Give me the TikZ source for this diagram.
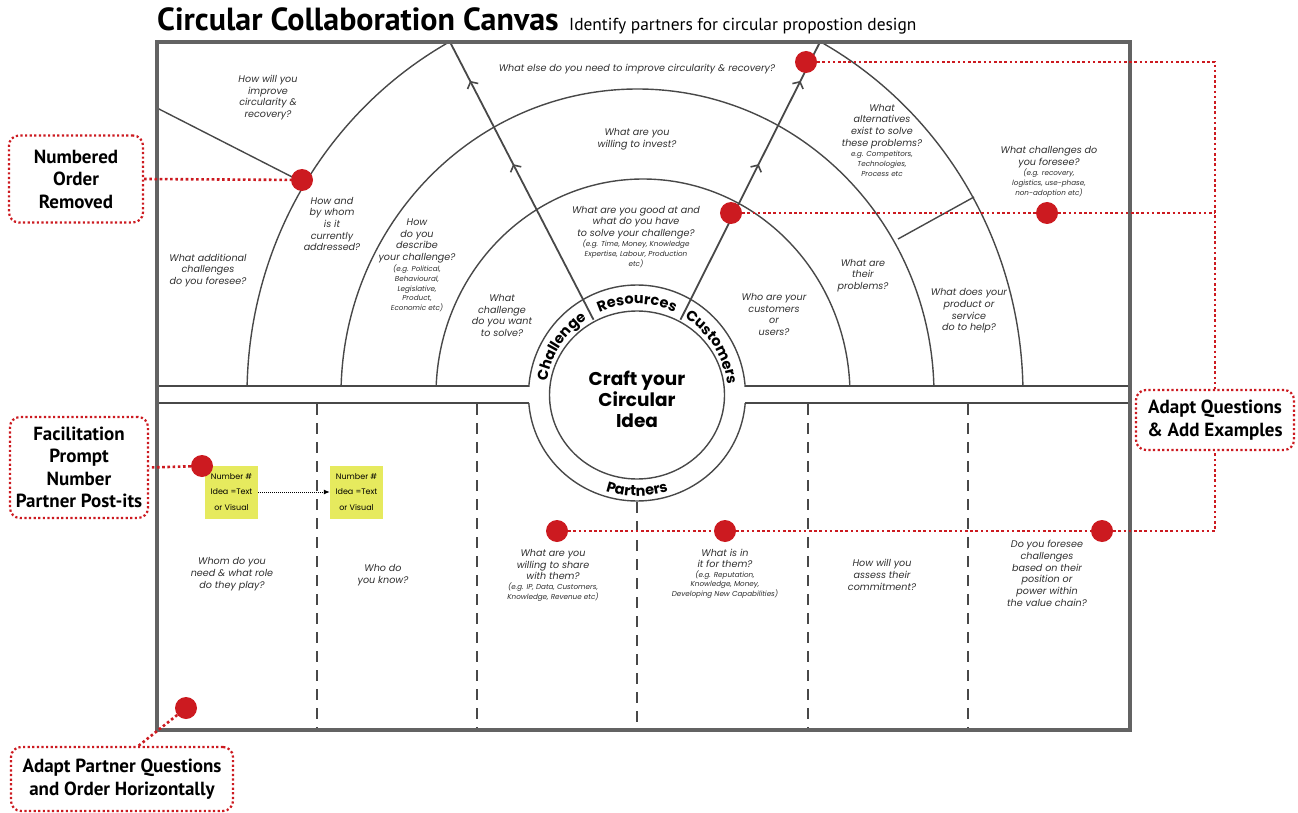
\documentclass[tikz,border=0pt]{standalone}
\usepackage{fontspec}
\setmainfont{PT Sans}
\newfontfamily\pop{Poppins}
\usetikzlibrary{arrows.meta,decorations.markings,decorations.text}
\definecolor{rd}{RGB}{204,26,32}
\definecolor{ln}{RGB}{72,72,72}
\definecolor{postityellow}{RGB}{230,234,94}
\newcommand\ringf{\pop\bfseries\fontsize{14.5}{14.5}\selectfont}
\pgfdeclarelayer{fg}
\pgfsetlayers{main,fg}
\begin{document}
\begin{tikzpicture}[x=1pt,y=-1pt,
  q/.style={font=\pop\itshape\fontsize{9.6}{11.7}\selectfont, align=center, text=black!82, inner sep=0pt},
  ex/.style={font=\pop\itshape\fontsize{7.2}{9.8}\selectfont, align=center, text=black!82, inner sep=0pt},
  cline/.style={draw=ln, line width=1.4pt},
  framebox/.style={draw=ln!85, line width=3.5pt},
  dashdiv/.style={draw=ln, line width=1.8pt, dash pattern=on 11pt off 8pt},
  flowline/.style={draw=ln, line width=1.8pt},
  chev/.style={postaction={decorate, decoration={markings,
     mark=at position 0.56 with {\arrow{Straight Barb[length=5pt,width=12pt,line width=1.6pt]}},
     mark=at position 0.86 with {\arrow{Straight Barb[length=5pt,width=12pt,line width=1.6pt]}}}}},
  rdot/.style={draw=rd, line width=2.6pt, dash pattern=on 2.6pt off 2.6pt},
  dot/.style={circle, fill=rd, minimum size=22pt, inner sep=0pt},
  callout/.style={draw=rd, line width=2.2pt, dash pattern=on 2.2pt off 2.4pt, rounded corners=10pt, align=center, font=\bfseries\fontsize{19}{22.5}\selectfont, inner sep=0pt},
  postit/.style={fill=postityellow, minimum width=53pt, minimum height=53pt, inner sep=0pt, align=center, font=\pop\fontsize{8}{15.5}\selectfont},
  ringtext/.style={decorate, decoration={text along path, text align=center, text={|\ringf|#1}}}
]
\useasboundingbox (0,0) rectangle (1298,813);

% title
\node[anchor=base west, font=\bfseries\fontsize{32}{34}\selectfont, inner sep=0pt] (title) at (157,31) {Circular Collaboration Canvas};
\node[anchor=base west, font=\fontsize{17.4}{19}\selectfont, inner sep=0pt] (subtitle) at (569,31) {Identify partners for circular propostion design};

% upper arcs
\begin{scope}
  \clip (157,42) rectangle (1130,386);
  \draw[cline] (643,395) ellipse [x radius=207, y radius=216];
  \draw[cline] (637.5,395) ellipse [x radius=296.5, y radius=306];
  \draw[cline] (635,395) ellipse [x radius=388, y radius=402];
  \draw[cline] (637,395) ellipse [x radius=108.5, y radius=110];
\end{scope}
% lower ring arc
\begin{scope}
  \clip (157,403) rectangle (1130,730);
  \draw[cline] (637,395) ellipse [x radius=108.5, y radius=106];
\end{scope}
% inner circle
\draw[cline] (637,395) ellipse [x radius=87.5, y radius=84];

% horizontal band lines
\draw[cline] (157,386) -- (528.6,386);
\draw[cline] (745.4,386) -- (1130,386);
\draw[cline] (157,403) -- (528.8,403);
\draw[cline] (745.2,403) -- (1130,403);

% ring dividers + flow arrows
\coordinate (inL) at (593.5,319.7);
\coordinate (topL) at (450,42);
\coordinate (inR) at (680.5,319.7);
\coordinate (topR) at (820,42);
\draw[flowline, chev] (inL) -- (topL);
\draw[flowline, chev] (inR) -- (topR);
% radial segments
\draw[cline] (157,108) -- (300,181);
\draw[cline] (898,239) -- (974,197);

% lower dashed dividers
\draw[dashdiv] (317,404) -- (317,730);
\draw[dashdiv] (477,404) -- (477,730);
\draw[dashdiv] (637,502) -- (637,730);
\draw[dashdiv] (808,404) -- (808,730);
\draw[dashdiv] (968,404) -- (968,730);

% frame
\draw[framebox] (157,42) rectangle (1130,730);

% ring labels
\path[ringtext=Challenge] (637,395) ++(-180.5:91) arc[start angle=-180.5, end angle=-114.5, radius=91];
\path[ringtext=Resources] (637,395) ++(-125:91) arc[start angle=-125, end angle=-55, radius=91];
\path[ringtext=Customers] (637,395) ++(-65.5:91) arc[start angle=-65.5, end angle=0.5, radius=91];
\path[ringtext=Partners] (637,395) ++(125:101) arc[start angle=125, end angle=55, radius=101];

\node[font=\pop\bfseries\fontsize{18.5}{21}\selectfont, align=center, inner sep=0pt] (craft) at (637,399) {Craft your\\Circular\\Idea};

% upper questions
\node[q] (qA) at (268,97.5) {How will you\\improve\\circularity \&\\recovery?};
\node[q] (qB) at (208,270.5) {What additional\\challenges\\do you foresee?};
\node[q] (qC) at (332,224) {How and\\by whom\\is it\\currently\\addressed?};
\node[q] (qD) at (417,241) {How\\do you\\describe\\your challenge?};
\node[ex] (qDx) at (417,288.5) {(e.g. Political,\\Behavioural,\\Legislative,\\Product,\\Economic etc)};
\node[q] (qE) at (502,315.5) {What\\challenge\\do you want\\to solve?};
\node[q] (qF) at (637,69) {What else do you need to improve circularity \& recovery?};
\node[q] (qG) at (637,139.5) {What are you\\willing to invest?};
\node[q] (qH) at (636,222.5) {What are you good at and\\what do you have\\to solve your challenge?};
\node[ex] (qHx) at (636,254) {(e.g. Time, Money, Knowledge\\Expertise, Labour, Production\\etc)};
\node[q] (qI) at (774,314.5) {Who are your\\customers\\or\\users?};
\node[q] (qJ) at (863,275.5) {What are\\their\\problems?};
\node[q] (qK) at (882,126.5) {What\\alternatives\\exist to solve\\these problems?};
\node[ex] (qKx) at (882,164) {e.g. Competitors,\\Technologies,\\Process etc};
\node[q] (qL) at (1049,157.5) {What challenges do\\you foresee?};
\node[ex] (qLx) at (1049,183) {(e.g. recovery,\\logistics, use-phase,\\non-adoption etc)};
\node[q] (qM) at (969,311) {What does your\\product or\\service\\do to help?};

% lower questions
\node[q] (qN) at (232,574) {Whom do you\\need \& what role\\do they play?};
\node[q] (qO) at (383,575) {Who do\\you know?};
\node[q] (qP) at (553,564.5) {What are you\\willing to share\\with them?};
\node[ex] (qPx) at (553,592) {(e.g. IP, Data, Customers,\\Knowledge, Revenue etc)};
\node[q] (qQ) at (725,558.5) {What is in\\it for them?};
\node[ex] (qQx) at (725,584.5) {(e.g. Reputation,\\Knowledge, Money,\\Developing New Capabilities)};
\node[q] (qR) at (882,575) {How will you\\assess their\\commitment?};
\node[q] (qS) at (1047,573.5) {Do you foresee\\challenges\\based on their\\position or\\power within\\the value chain?};

% post-its
\node[postit] (p1) at (231.5,492) {Number \#\\Idea =Text\\or Visual};
\node[postit] (p2) at (356.5,492) {Number \#\\Idea =Text\\or Visual};
\draw[densely dotted, line width=1pt, -{Latex[length=6pt,width=5pt]}] (p1.east) -- (p2.west);

% callouts
\node[callout, minimum width=134pt, minimum height=87pt] (bNum) at (76,179) {Numbered\\Order\\Removed};
\node[callout, minimum width=138pt, minimum height=101pt] (bFac) at (79,467.5) {Facilitation\\Prompt\\Number\\Partner Post-its};
\node[callout, minimum width=158pt, minimum height=60pt] (bAdapt) at (1215,420) {Adapt Questions\\\& Add Examples};
\node[callout, minimum width=222pt, minimum height=64pt] (bPart) at (122,779) {Adapt Partner Questions\\and Order Horizontally};

% red dots
\begin{pgfonlayer}{fg}
\node[dot] (d1) at (302,180) {};
\node[dot] (d2) at (806,62) {};
\node[dot] (d3) at (731,213) {};
\node[dot] (d4) at (1047,213) {};
\node[dot] (d5) at (202,466) {};
\node[dot] (d6) at (557,531) {};
\node[dot] (d7) at (725,531) {};
\node[dot] (d8) at (1102,531) {};
\node[dot] (d9) at (186,708) {};
\end{pgfonlayer}
\coordinate (k2) at (1215,62);
\coordinate (k3) at (1215,213);
\coordinate (k6) at (1215,531);
\coordinate (k9) at (137,747);

% red dotted connectors
\draw[rdot] (bNum.east) -- (d1);
\draw[rdot] (d2) -- (k2) -- (bAdapt.north);
\draw[rdot] (d3) -- (d4) -- (k3);
\draw[rdot] (d5) -- (bFac.east);
\draw[rdot] (d6) -- (d7) -- (d8) -- (k6) -- (bAdapt.south);
\draw[rdot] (d9) -- (k9);
\end{tikzpicture}
\end{document}
